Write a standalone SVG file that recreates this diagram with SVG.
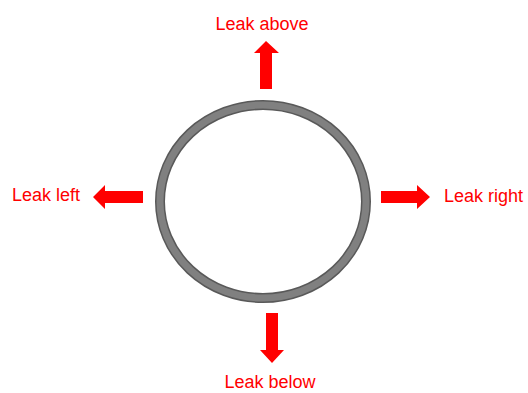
<svg xmlns="http://www.w3.org/2000/svg" width="528" height="393" viewBox="0 0 528 393">
<style>
.lbl{font-family:"Liberation Sans",Arial,sans-serif;font-size:18px;fill:#ff0000}
.arr{fill:#ff0000}
</style>
<rect width="528" height="393" fill="#ffffff"/>
<g id="ring">
<ellipse cx="263" cy="201.5" rx="103" ry="96.5" fill="none" stroke="#595959" stroke-width="10"/>
<ellipse cx="263" cy="201.5" rx="103" ry="96.5" fill="none" stroke="#808080" stroke-width="7"/>
</g>
<g id="connectors">
<polygon class="arr" points="260,89 260,53 254,53 266,41 279,53 272,53 272,89"/>
<polygon class="arr" points="143,191 105,191 105,185 93,197 105,209 105,203 143,203"/>
<polygon class="arr" points="381,191 417,191 417,185 430,197 417,209 417,203 381,203"/>
<polygon class="arr" points="266,313 266,350 260,350 272,363 284,350 278,350 278,313"/>
</g>
<g id="above"><text class="lbl" x="262" y="30" text-anchor="middle">Leak above</text></g>
<g id="left"><text class="lbl" x="12" y="201">Leak left</text></g>
<g id="right"><text class="lbl" x="444" y="202">Leak right</text></g>
<g id="below"><text class="lbl" x="270" y="388" text-anchor="middle">Leak below</text></g>
</svg>
